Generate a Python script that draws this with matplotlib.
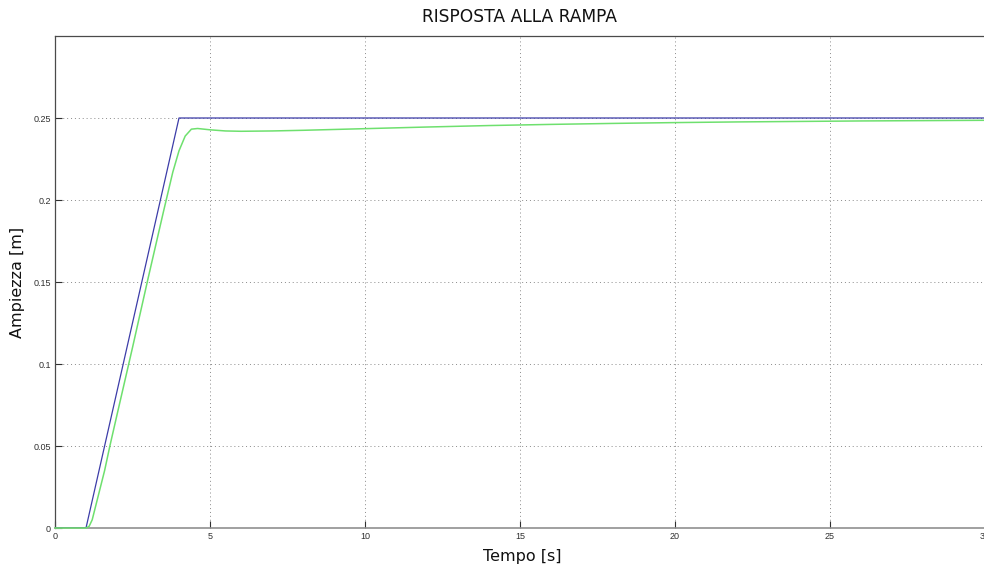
import matplotlib
matplotlib.use("Agg")
import matplotlib.pyplot as plt
import numpy as np

# Reference ramp: zero until t=1 s, rises to 0.25 m at t=4 s, then holds
ramp_t = [0, 1, 4, 30]
ramp_y = [0, 0, 0.25, 0.25]

# System response (sampled along the curve)
resp_t = [0, 1.0, 1.1, 1.2, 1.4, 1.6, 1.77, 2.0, 2.5, 3.0, 3.5, 3.8, 4.0, 4.2,
          4.4, 4.6, 5.0, 5.5, 6.0, 7.0, 8.0, 10, 12, 14, 16, 18, 20, 22, 24,
          26, 28, 30]
resp_y = [0, 0, 0.001, 0.005, 0.02, 0.035, 0.05, 0.069, 0.11, 0.152, 0.193,
          0.217, 0.230, 0.239, 0.2432, 0.2436, 0.2428, 0.2421, 0.2419, 0.2421,
          0.2425, 0.2435, 0.2445, 0.2454, 0.2461, 0.2467, 0.2472, 0.2476,
          0.2479, 0.2482, 0.2484, 0.2486]

x_ticks = [0, 5, 10, 15, 20, 25, 30]
y_ticks = [0, 0.05, 0.1, 0.15, 0.2, 0.25]
y_tick_labels = ["0", "0.05", "0.1", "0.15", "0.2", "0.25"]

plt.rcParams['font.family'] = ['DejaVu Sans']

fig = plt.figure(figsize=(9.84, 5.69), dpi=100)
ax = fig.add_axes([55 / 984, 1 - 528 / 569, 930 / 984, (528 - 36) / 569])

ax.plot(ramp_t, ramp_y, color='#3c3ca8', linewidth=0.9, zorder=3)
ax.plot(resp_t, resp_y, color='#6ee06e', linewidth=1.1, zorder=4,
        clip_on=False)

ax.set_xlim(0, 30)
ax.set_ylim(0, 0.3)
ax.set_xticks(x_ticks)
ax.set_xticklabels([str(v) for v in x_ticks])
ax.set_yticks(y_ticks)
ax.set_yticklabels(y_tick_labels)

ax.tick_params(direction='in', length=5, width=0.8, labelsize=6.5,
               colors='#303030', pad=3)
for lbl in ax.get_xticklabels() + ax.get_yticklabels():
    lbl.set_fontfamily(['Liberation Sans'])
ax.grid(True, color='#8a8a8a', linestyle=(0, (1, 3)), linewidth=0.7)

for name, sp in ax.spines.items():
    sp.set_color('#4a4a4a')
    sp.set_linewidth(0.9)
ax.spines['bottom'].set_color('#909090')
ax.spines['bottom'].set_linewidth(1.2)

ax.set_title("RISPOSTA ALLA RAMPA", fontsize=12.3, color='#111111', pad=10)
ax.set_xlabel("Tempo [s]", fontsize=11.5, color='#111111')
ax.set_ylabel("Ampiezza [m]", fontsize=11.5, color='#111111')
ax.xaxis.set_label_coords((522 - 55) / 930, (528 - 549) / 492)
ax.yaxis.label.set_verticalalignment('center')
ax.yaxis.set_label_coords((18 - 55) / 930, 0.5)

fig.savefig("out.png", dpi=100)
